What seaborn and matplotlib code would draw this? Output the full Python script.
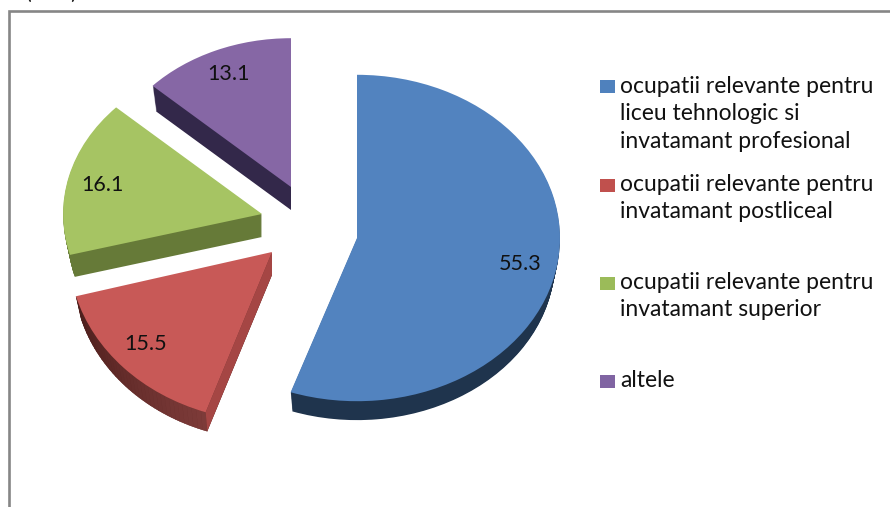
import numpy as np
import matplotlib
matplotlib.use("Agg")
import matplotlib.pyplot as plt
from matplotlib.colors import to_rgb
from matplotlib.lines import Line2D
from matplotlib.patches import Rectangle
from matplotlib.transforms import Affine2D
import seaborn as sns

values = [55.3, 15.5, 16.1, 13.1]
value_labels = ["55.3", "15.5", "16.1", "13.1"]
categories = [
    "ocupatii relevante pentru\nliceu tehnologic si\ninvatamant profesional",
    "ocupatii relevante pentru\ninvatamant postliceal",
    "ocupatii relevante pentru\ninvatamant superior",
    "altele",
]
top_colors = ["#5283bf", "#c85957", "#a6c463", "#8667a5"]
legend_colors = ["#4f81bd", "#c0504d", "#9bbb59", "#8064a2"]
side_colors = ["#1f344d", "#5a2624", "#667a38", "#33284a"]
label_pos = [(520, 270), (146, 350), (102, 191), (229, 80)]
legend_y = [87, 185, 283, 381]

W, H = 890, 507
RX, RY = 203, 160     # pie radii, pixels
DEPTH = 23
SHRINK = 0.025        # far rim of the extrusion is a bit smaller (perspective)
# each slice sits at its own apex, with its own size (3d view of the exploded pie)
apex_px = [(357, 238), (272, 252), (262, 214), (291, 187)]
slice_r = [1.0, 1.0, 0.98, 0.93]
slice_sy = [1.02, 1.06, 1.0, 1.0]

sns.set_theme(style="white")
plt.rcParams["font.family"] = ["Lato", "DejaVu Sans"]

fig = plt.figure(figsize=(W / 100, H / 100), dpi=100)
ax = fig.add_axes([0, 0, 1, 1])


def fig_xy(x, y):
    return x / W, 1 - y / H


def draw_pie(colors, d=0):
    wedges, _ = ax.pie(values, colors=colors, startangle=90, counterclock=False,
                       wedgeprops={"linewidth": 0})
    shrink = 1 - SHRINK * d / DEPTH
    for w, (px, py), r, sy in zip(wedges, apex_px, slice_r, slice_sy):
        cx, cy = px / RX, (H - py - d) / RY
        w.set_center((cx, cy))
        w.set_radius(r * shrink)
        stretch = Affine2D().translate(-cx, -cy).scale(1, sy).translate(cx, cy)
        w.set_transform(stretch + ax.transData)
    return wedges


# extrusion: the same pie stacked downwards, darker
for d in range(DEPTH, 0, -1):
    draw_pie(side_colors, d)

top = draw_pie(top_colors)

# red slice: lighter cut face and a shaded rim
red = top[1]
sy = slice_sy[1]
cx0, cy0 = red.center
r0, r1 = red.r, red.r * (1 - SHRINK)
dd = DEPTH / RY
t1, t2 = np.deg2rad(red.theta1), np.deg2rad(red.theta2)
angles = np.linspace(t1, t2, 40)
rim_a, rim_b = np.array(to_rgb("#4c1e1c")), np.array(to_rgb("#7d3b39"))
for i in range(len(angles) - 1):
    a = np.array([angles[i], angles[i + 1]])
    xs = cx0 + np.r_[r0 * np.cos(a), r1 * np.cos(a[::-1])]
    ys = cy0 + np.r_[sy * r0 * np.sin(a), sy * r1 * np.sin(a[::-1]) - dd]
    f = i / (len(angles) - 2)
    ax.fill(xs, ys, color=rim_a + (rim_b - rim_a) * f, lw=0.3, zorder=2)
side_a = t2 if np.cos(t2) > np.cos(t1) else t1
face_x = [cx0, cx0 + r0 * np.cos(side_a), cx0 + r1 * np.cos(side_a), cx0]
face_y = [cy0, cy0 + sy * r0 * np.sin(side_a), cy0 + sy * r1 * np.sin(side_a) - dd, cy0 - dd]
ax.fill(face_x, face_y, color="#a54644", lw=0, zorder=2)
for w in top:
    w.set_zorder(3)

ax.set_aspect("auto")
ax.set_xlim(0, W / RX)
ax.set_ylim(0, H / RY)
ax.set_axis_off()

for text, (x, y) in zip(value_labels, label_pos):
    fx, fy = fig_xy(x, y)
    fig.text(fx, fy, text, ha="center", va="baseline", fontsize=15.5,
             color="#111111", zorder=5)

# legend
for text, color, y in zip(categories, legend_colors, legend_y):
    fx, fy = fig_xy(600, y + 6.5)
    fig.add_artist(Rectangle((fx, fy), 15 / W, 13 / H, color=color, lw=0,
                             transform=fig.transFigure))
    for j, line in enumerate(text.split("\n")):
        fx, fy = fig_xy(620, y + 6 + j * 27.5)
        fig.text(fx, fy, line, ha="left", va="baseline", fontsize=16.5,
                 color="#111111")

# chart frame, cut off by the image edge
fx0, fy0 = fig_xy(8.5, 11)
fig.add_artist(Line2D([fx0, fx0, 1], [0, fy0, fy0], color="#868686", lw=1.9,
                      transform=fig.transFigure, solid_joinstyle="miter"))
fx, fy = fig_xy(26, -1)
fig.text(fx, fy, "(  %  )", ha="left", va="baseline", fontsize=15.5, color="#111111")

fig.savefig("out.png", dpi=100, facecolor="white")
